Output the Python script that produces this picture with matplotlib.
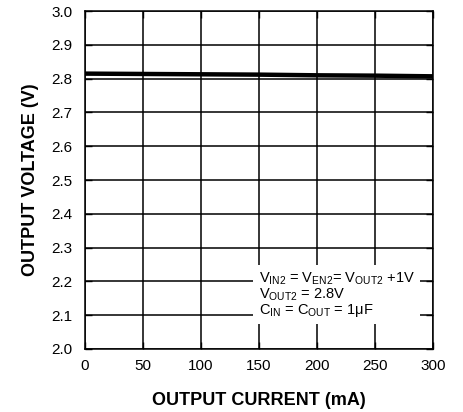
import matplotlib
matplotlib.use("Agg")
import matplotlib.pyplot as plt

plt.rcParams["font.family"] = ["Liberation Sans", "DejaVu Sans"]
plt.rcParams["mathtext.fontset"] = "custom"
plt.rcParams["mathtext.rm"] = "Liberation Sans"

# output current (mA) vs output voltage (V)
current = [0, 50, 100, 150, 200, 250, 300]
voltage = [2.815, 2.814, 2.813, 2.812, 2.810, 2.809, 2.807]

x_ticks = [0, 50, 100, 150, 200, 250, 300]
y_ticks = [2.0, 2.1, 2.2, 2.3, 2.4, 2.5, 2.6, 2.7, 2.8, 2.9, 3.0]

fig = plt.figure(figsize=(4.63, 4.12), dpi=100)
ax = fig.add_axes([0.1836, 0.153, 0.7516, 0.820])

ax.plot(current, voltage, color="black", lw=3.2, solid_capstyle="butt", zorder=3)

ax.set_xlim(0, 300)
ax.set_ylim(2.0, 3.0)
ax.set_xticks(x_ticks)
ax.set_yticks(y_ticks)
ax.set_yticklabels([f"{v:.1f}" for v in y_ticks])
ax.grid(True, color="black", lw=1.1)
ax.tick_params(direction="in", length=5, width=1, labelsize=11, right=True, top=True)
ax.tick_params(axis="x", pad=7)
ax.tick_params(axis="y", pad=9)
for s in ax.spines.values():
    s.set_linewidth(1.1)

ax.set_xlabel("OUTPUT CURRENT (mA)", fontsize=13, fontweight="bold", labelpad=14)
ax.set_ylabel("OUTPUT VOLTAGE (V)", fontsize=13, fontweight="bold", labelpad=9)

note = ("V$_{\\mathrm{IN2}}$ = V$_{\\mathrm{EN2}}$= V$_{\\mathrm{OUT2}}$ +1V\n"
        "V$_{\\mathrm{OUT2}}$ = 2.8V\n"
        "C$_{\\mathrm{IN}}$ = C$_{\\mathrm{OUT}}$ = 1\u03bcF")
ax.text(150, 2.232, note, fontsize=10.5, ha="left", va="top", linespacing=0.9,
        zorder=4, bbox=dict(facecolor="white", edgecolor="none", pad=4))

fig.savefig("out.png", dpi=100)
